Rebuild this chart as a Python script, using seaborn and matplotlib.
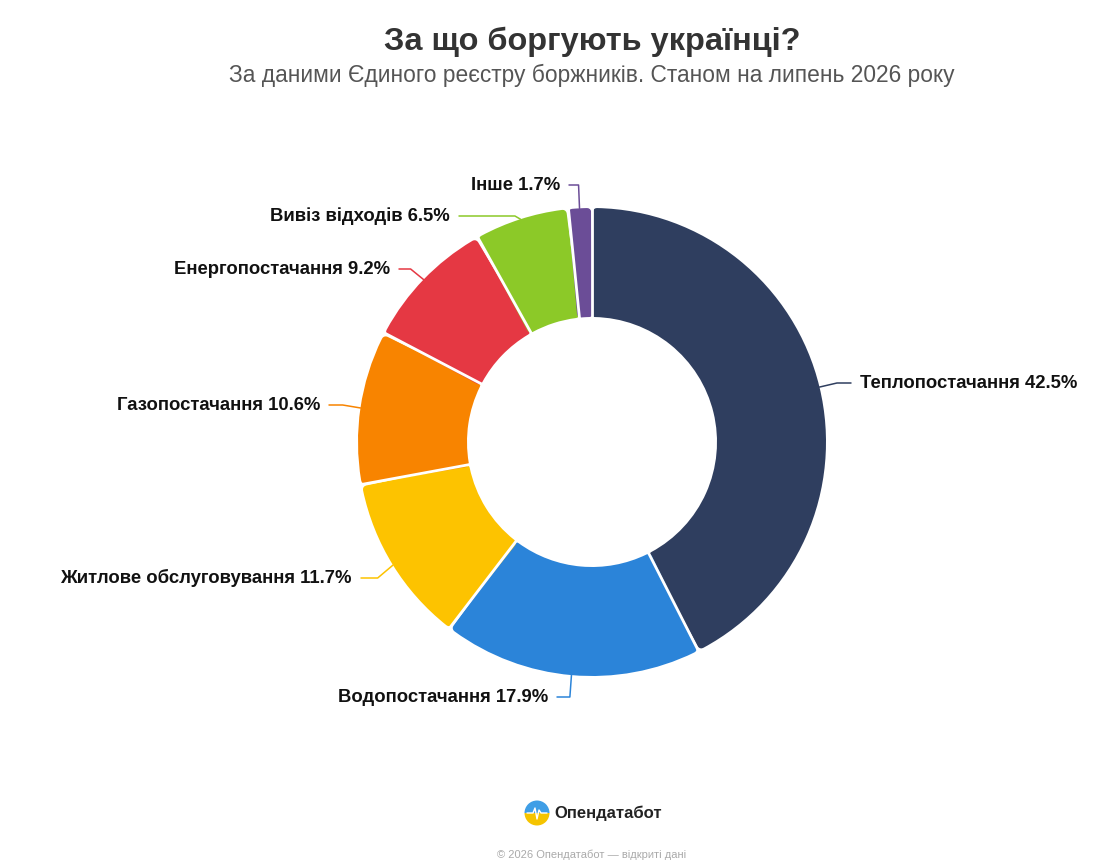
import numpy as np
import matplotlib.pyplot as plt
import seaborn as sns
from matplotlib.patches import Wedge

sns.set_theme(style="white")
plt.rcParams['font.family'] = ['Liberation Sans', 'DejaVu Sans']

# ---------------------------------------------
# Data: debt structure by category (%)
# ---------------------------------------------
categories = ['Теплопостачання', 'Водопостачання', 'Житлове обслуговування',
              'Газопостачання', 'Енергопостачання', 'Вивіз відходів', 'Інше']
shares = [42.5, 17.9, 11.7, 10.6, 9.2, 6.5, 1.7]
colors = ['#2f3e5f', '#2b84d9', '#fdc300', '#f88400', '#e53843', '#8cc928', '#6b4d97']

# label anchor offsets from the pie centre, in pixels (y down)
label_offsets = [(268, -59), (-44, 255), (-240, 136), (-272, -37),
                 (-202, -173), (-142, -226), (-32, -257)]

W_PX, H_PX = 1112, 867
CX, CY = 592, H_PX - 442          # pie centre (y up)
R_OUT, RING = 234, 109

fig = plt.figure(figsize=(W_PX / 100, H_PX / 100), dpi=100, facecolor='white')
ax = fig.add_axes([0, 0, 1, 1])

wedges, _ = ax.pie(shares, colors=colors, startangle=90, counterclock=False,
                   radius=R_OUT, center=(CX, CY),
                   wedgeprops=dict(width=RING, linewidth=0))
ax.set_xlim(0, W_PX)
ax.set_ylim(0, H_PX)
ax.set_aspect('equal')
ax.axis('off')

# rounded corners: shrink each wedge and stroke it with its own colour
corner = 4
lw_pt = corner * 2 * 72 / 100
for w in wedges:
    w.set_radius(R_OUT - corner)
    w.set_width(RING - 2 * corner)
    w.set_theta1(w.theta1 + 1.2)
    w.set_theta2(w.theta2 - 1.2)
    w.set_edgecolor(w.get_facecolor())
    w.set_linewidth(lw_pt)
    w.set_joinstyle('round')

# white separators between slices
bounds = 90 - 3.6 * np.cumsum([0] + shares[:-1])
for b in bounds:
    t = np.deg2rad(b)
    r0, r1 = R_OUT - RING - 8, R_OUT + 8
    ax.plot([CX + r0 * np.cos(t), CX + r1 * np.cos(t)],
            [CY + r0 * np.sin(t), CY + r1 * np.sin(t)],
            color='white', lw=2.0, solid_capstyle='butt', zorder=3)

# labels with leader lines
for w, name, val, col, (dx, dy) in zip(wedges, categories, shares, colors, label_offsets):
    mid = np.deg2rad((w.theta1 + w.theta2) / 2)
    side = 1 if dx > 0 else -1
    lx, ly = CX + dx, CY - dy
    x0, y0 = CX + R_OUT * np.cos(mid), CY + R_OUT * np.sin(mid)
    x1 = CX + (R_OUT + 18) * np.cos(mid)
    x2 = lx - side * 9
    ax.plot([x0, x1, x2], [y0, ly, ly], color=col, lw=1.1, zorder=2)
    ax.text(lx, ly, f"{name} {val}%", ha='left' if side > 0 else 'right',
            va='center', fontsize=13.3, fontweight='bold', color='#111111')

# titles
fig.text(CX / W_PX, 1 - 42 / H_PX, 'За що боргують українці?', ha='center', va='center',
         fontsize=23.4, fontweight='bold', color='#333333')
fig.text(CX / W_PX, 1 - 75 / H_PX,
         'За даними Єдиного реєстру боржників. Станом на липень 2026 року',
         ha='center', va='center', fontsize=16.4, color='#555555')

# logo
lx0, ly0, lr = 537, H_PX - 813, 12.5
ax.add_patch(Wedge((lx0, ly0), lr, 0, 180, facecolor='#3f9ee6', lw=0))
ax.add_patch(Wedge((lx0, ly0), lr, 180, 360, facecolor='#f5c400', lw=0))
px = lx0 + np.array([-10, -4, -2, 0, 2, 4, 10])
py = ly0 + np.array([0, 0, 5, -6, 3, 0, 0])
ax.plot(px, py, color='white', lw=1.0)
ax.text(554, ly0, 'Опендатабот', ha='left', va='center', fontsize=12,
        fontweight='bold', color='#222222')

fig.text(CX / W_PX, 1 - 855 / H_PX, '© 2026 Опендатабот — відкриті дані',
         ha='center', va='center', fontsize=8, color='#aaaaaa')

fig.savefig('out.png', dpi=100, facecolor='white')
